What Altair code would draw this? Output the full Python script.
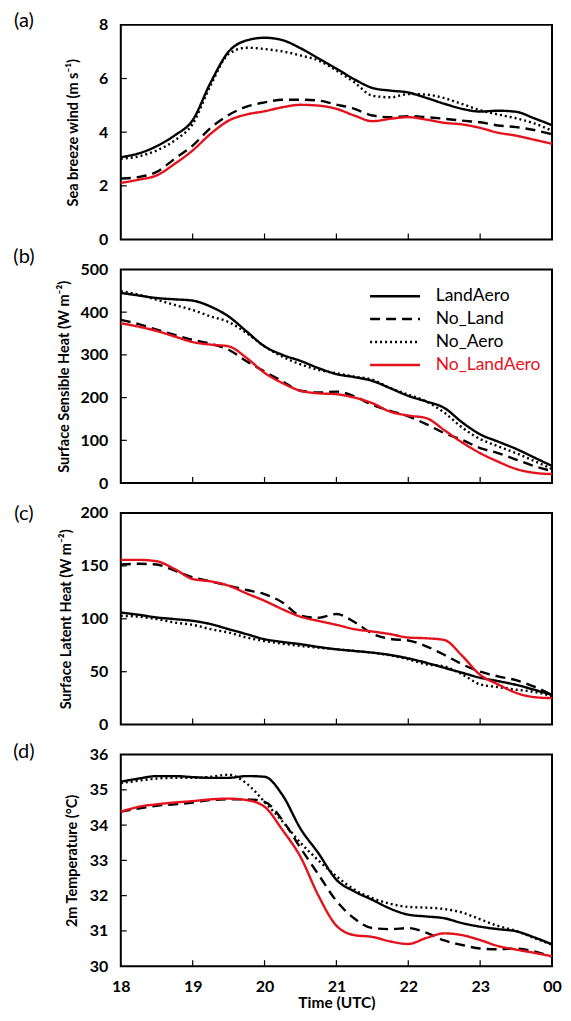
import altair as alt
import pandas as pd

# ---------------- data ----------------
HOURS = [18.0, 18.25, 18.5, 18.75, 19.0, 19.25, 19.5, 19.75, 20.0, 20.25, 20.5, 20.75,
         21.0, 21.25, 21.5, 21.75, 22.0, 22.25, 22.5, 22.75, 23.0, 23.25, 23.5, 23.75, 24.0]
SERIES = ["LandAero", "No_Land", "No_Aero", "No_LandAero"]
COLORS = ["black", "black", "black", "#E4121C"]
DASHES = [[1, 0], [10, 6], [2, 3], [1, 0]]

wind_landaero = [3.07, 3.21, 3.48, 3.88, 4.45, 5.85, 7.00, 7.42, 7.52, 7.43, 7.13, 6.75,
                 6.37, 5.97, 5.65, 5.55, 5.48, 5.28, 5.06, 4.87, 4.77, 4.80, 4.76, 4.52, 4.26]
wind_noland = [2.27, 2.33, 2.52, 3.01, 3.50, 4.16, 4.64, 4.95, 5.11, 5.21, 5.21, 5.18,
               5.03, 4.87, 4.62, 4.56, 4.60, 4.56, 4.50, 4.43, 4.37, 4.25, 4.19, 4.08, 3.92]
wind_noaero = [3.01, 3.10, 3.32, 3.69, 4.31, 5.75, 6.91, 7.15, 7.10, 7.01, 6.86, 6.67,
               6.30, 5.86, 5.36, 5.30, 5.42, 5.40, 5.27, 5.05, 4.82, 4.66, 4.52, 4.33, 4.05]
wind_nolandaero = [2.11, 2.23, 2.39, 2.82, 3.32, 3.94, 4.43, 4.66, 4.78, 4.93, 5.02, 4.99,
                   4.87, 4.62, 4.41, 4.50, 4.56, 4.47, 4.35, 4.29, 4.16, 3.98, 3.87, 3.72, 3.57]

sens_landaero = [445, 439, 433, 430, 427, 413, 390, 355, 320, 300, 286, 269,
                 255, 248, 239, 222, 204, 191, 176, 142, 114, 97, 80, 60, 40]
sens_noland = [382, 372, 359, 347, 335, 326, 312, 285, 261, 238, 216, 212,
               214, 203, 183, 169, 156, 138, 117, 101, 82, 70, 55, 40, 28]
sens_noaero = [449, 441, 429, 417, 405, 390, 377, 351, 320, 296, 278, 265,
               257, 249, 242, 222, 207, 191, 165, 130, 103, 86, 70, 52, 33]
sens_nolandaero = [374, 366, 356, 343, 330, 324, 320, 293, 258, 234, 216, 210,
                   208, 200, 187, 167, 158, 152, 124, 95, 70, 50, 33, 24, 21]

lat_landaero = [106, 103.8, 101.3, 99.7, 98.1, 95, 90.2, 85.5, 80.7, 78.1, 76, 73.4,
                71.2, 69.6, 68, 65.8, 62.6, 58.5, 53.7, 49, 44.3, 41.1, 37.6, 33, 28]
lat_noland = [151.3, 152, 151.3, 145.6, 139.2, 135.4, 131.3, 127.2, 123.4, 115.5, 103, 101,
              104.5, 97, 86, 81, 79.5, 74, 66, 57, 50, 45.6, 42, 36, 28]
lat_noaero = [102.8, 102, 99.7, 96.5, 94.3, 90.2, 87, 82.3, 79, 76.5, 74.3, 72.7,
              71.2, 69.6, 68, 65.5, 61.7, 57, 55, 47.5, 38, 35.5, 33, 31, 27]
lat_nolandaero = [155.7, 155.7, 154.4, 147, 137.6, 135.4, 131.3, 124, 117, 109, 102, 98,
                  94.3, 90.2, 88, 85.5, 82.3, 81.6, 80, 65, 47, 38, 30, 26, 25]

t2m_landaero = [35.23, 35.32, 35.39, 35.39, 35.36, 35.34, 35.34, 35.39, 35.37, 34.85, 33.90, 33.20,
                32.45, 32.12, 31.88, 31.63, 31.46, 31.41, 31.36, 31.22, 31.12, 31.05, 30.99, 30.82, 30.62]
t2m_noland = [34.38, 34.47, 34.55, 34.59, 34.64, 34.71, 34.73, 34.73, 34.66, 34.14, 33.35, 32.60,
              31.85, 31.35, 31.08, 31.05, 31.08, 30.95, 30.73, 30.60, 30.50, 30.48, 30.50, 30.42, 30.27]
t2m_noaero = [35.19, 35.26, 35.32, 35.34, 35.34, 35.37, 35.43, 35.18, 34.66, 34.10, 33.50, 33.00,
              32.55, 32.17, 31.93, 31.77, 31.68, 31.66, 31.62, 31.52, 31.33, 31.14, 31.00, 30.80, 30.61]
t2m_nolandaero = [34.38, 34.52, 34.59, 34.64, 34.68, 34.73, 34.75, 34.71, 34.52, 33.86, 33.10, 32.00,
                  31.15, 30.88, 30.83, 30.70, 30.63, 30.80, 30.93, 30.88, 30.74, 30.57, 30.47, 30.38, 30.28]

X_TICKS = [18, 19, 20, 21, 22, 23, 24]
X_INNER = [19, 20, 21, 22, 23]

FONT = "Lato"
WIDTH = 432
TICK_FS = 16


def long_df(series_lists):
    rows = []
    for name, vals in zip(SERIES, series_lists):
        for h, v in zip(HOURS, vals):
            rows.append({"hour": h, "value": v, "series": name})
    return pd.DataFrame(rows)


def panel(series_lists, ydomain, yticks, ytitle, label, label_dy, height,
          title_pad, bottom=False, legend=None):
    df = long_df(series_lists)
    xscale = alt.Scale(domain=[18, 24], nice=False, zero=False)
    yscale = alt.Scale(domain=ydomain, nice=False, zero=False)
    if bottom:
        xaxis = alt.Axis(values=X_TICKS, tickCount=len(X_TICKS), title="Time (UTC)",
                         grid=False, domain=False,
                         ticks=False, tickSize=0, labelFlush=False, labelOverlap=False,
                         labelExpr="datum.value == 24 ? '00' : datum.value",
                         labelFont=FONT, labelFontWeight="bold", labelFontSize=TICK_FS,
                         labelColor="black", labelPadding=12,
                         titleFont=FONT, titleFontWeight="bold", titleFontSize=15.5,
                         titleColor="black", titlePadding=1)
    else:
        xaxis = alt.Axis(values=X_TICKS, title=None, grid=False, domain=False,
                         ticks=False, tickSize=0, labels=False)
    yaxis = alt.Axis(values=yticks, tickCount=len(yticks), title=ytitle, grid=False,
                     domain=False, ticks=False,
                     tickSize=0, labelFlush=False, labelOverlap=False,
                     labelFont=FONT, labelFontWeight="bold", labelFontSize=TICK_FS,
                     labelColor="black", labelPadding=13,
                     titleFont=FONT, titleFontWeight="bold", titleFontSize=14.5,
                     titleColor="black", titlePadding=title_pad)
    lines = alt.Chart(df).mark_line(interpolate="monotone", strokeWidth=2.4,
                                    strokeCap="butt").encode(
        x=alt.X("hour:Q", scale=xscale, axis=xaxis),
        y=alt.Y("value:Q", scale=yscale, axis=yaxis),
        color=alt.Color("series:N", scale=alt.Scale(domain=SERIES, range=COLORS),
                        legend=legend),
        strokeDash=alt.StrokeDash("series:N", scale=alt.Scale(domain=SERIES, range=DASHES),
                                  legend=legend),
    )
    xt = alt.Chart(pd.DataFrame({"hour": X_INNER})).mark_rule(
        color="black", strokeWidth=1.2).encode(
        x=alt.X("hour:Q", scale=xscale, axis=xaxis),
        y=alt.value(height), y2=alt.value(height - 6))
    y_inner = yticks[1:-1]
    yt = alt.Chart(pd.DataFrame({"value": y_inner})).mark_rule(
        color="black", strokeWidth=1.2).encode(
        y=alt.Y("value:Q", scale=yscale, axis=yaxis), x=alt.value(0), x2=alt.value(6))
    lab = alt.Chart(pd.DataFrame({"lab": [label]})).mark_text(
        font=FONT, fontSize=20, align="center", baseline="middle", color="black").encode(
        text="lab:N", x=alt.value(-97), y=alt.value(label_dy))
    return alt.layer(lines, xt, yt, lab).properties(
        width=WIDTH, height=height,
        view=alt.ViewBackground(stroke="black", strokeWidth=2, fill="white"))


legend_b = alt.Legend(
    orient="none", legendX=266, legendY=18, title=None,
    symbolType="M-5,0H5", symbolSize=100, symbolStrokeWidth=2.5,
    labelFont=FONT, labelFontSize=17.5, labelOffset=32, rowPadding=4, padding=0,
    labelColor=alt.ExprRef(expr="datum.label == 'No_LandAero' ? '#E4121C' : 'black'"),
)

pa = panel([wind_landaero, wind_noland, wind_noaero, wind_nolandaero], [0, 8],
           [0, 2, 4, 6, 8], "Sea breeze wind (m s⁻¹)", "(a)", -4, 215, 18)
pb = panel([sens_landaero, sens_noland, sens_noaero, sens_nolandaero], [0, 500],
           [0, 100, 200, 300, 400, 500], "Surface Sensible Heat (W m⁻²)", "(b)", -12, 214, 9,
           legend=legend_b)
pc = panel([lat_landaero, lat_noland, lat_noaero, lat_nolandaero], [0, 200],
           [0, 50, 100, 150, 200], "Surface Latent Heat (W m⁻²)", "(c)", 1, 212, 7)
pd_ = panel([t2m_landaero, t2m_noland, t2m_noaero, t2m_nolandaero], [30, 36],
            [30, 31, 32, 33, 34, 35, 36], "2m Temperature (°C)", "(d)", -3, 212, 10,
            bottom=True)

chart = alt.vconcat(pa, pb, pc, pd_, spacing=30, bounds="flush").resolve_scale(
    color="independent", strokeDash="independent"
).properties(
    padding={"left": 4, "top": 1, "right": 0, "bottom": 0}
).configure_view(
    stroke="black", strokeWidth=2
).configure(background="white")

chart.save("out.html", embed_options={"renderer": "svg", "actions": False})
